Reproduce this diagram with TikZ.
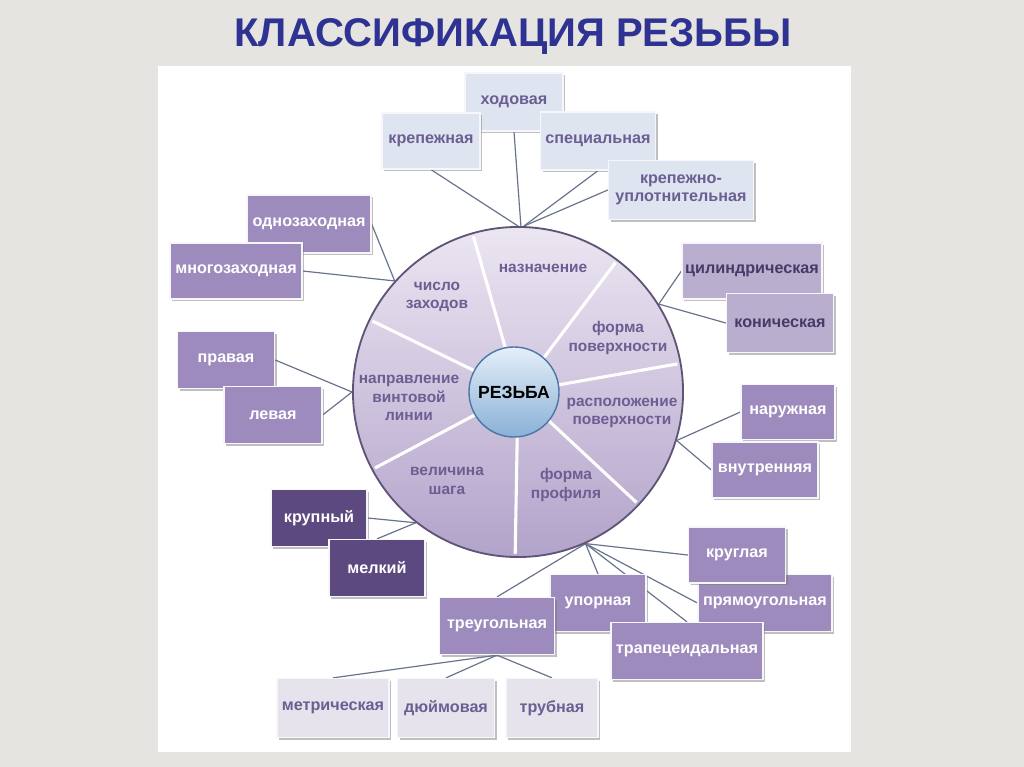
\documentclass[tikz,border=0pt]{standalone}
\usepackage{fontspec}
\setmainfont{Liberation Sans}
\usetikzlibrary{shadows,backgrounds}
\definecolor{paper}{RGB}{230,228,224}
\definecolor{titleblue}{RGB}{46,50,146}
\definecolor{lilac}{RGB}{157,139,190}
\definecolor{darklilac}{RGB}{92,73,128}
\definecolor{softlilac}{RGB}{186,174,207}
\definecolor{paleblue}{RGB}{222,229,241}
\definecolor{palegray}{RGB}{231,227,236}
\definecolor{labeltext}{RGB}{108,94,146}
\definecolor{darktext}{RGB}{70,58,104}
\definecolor{wirecol}{RGB}{104,116,142}
\definecolor{ringedge}{RGB}{96,84,118}
\definecolor{ringtop}{RGB}{236,230,242}
\definecolor{ringbot}{RGB}{178,163,202}
\definecolor{hubtop}{RGB}{228,239,249}
\definecolor{hubbot}{RGB}{138,176,214}
\definecolor{hubedge}{RGB}{78,118,164}
\tikzset{
  kbox/.style={draw=white!92!lilac, line width=0.9pt, minimum height=1.425cm,
    inner sep=2pt, align=center, font=\fontsize{11.5}{12.5}\selectfont\bfseries,
    drop shadow={shadow xshift=1.6pt, shadow yshift=-1.6pt, opacity=0.45, fill=black!55}},
  lightbox/.style={kbox, fill=paleblue, text=labeltext},
  midbox/.style={kbox, fill=lilac, text=white},
  darkbox/.style={kbox, fill=darklilac, text=white},
  softbox/.style={kbox, fill=softlilac, text=darktext},
  greybox/.style={kbox, fill=palegray, text=labeltext, minimum height=1.475cm},
  sector/.style={text=labeltext, align=center, font=\fontsize{11}{13}\selectfont\bfseries},
  wire/.style={draw=wirecol, line width=0.85pt},
  spoke/.style={draw=white, line width=2.2pt},
  headline/.style={text=titleblue, font=\fontsize{28.5}{30}\selectfont\bfseries}
}
\begin{document}
\begin{tikzpicture}[x=0.025cm,y=0.025cm]
\useasboundingbox (0,0) rectangle (1024,-767);
\begin{pgfonlayer}{background}
\fill[paper] (0,0) rectangle (1024,-767);
\fill[white] (158,-66) rectangle (851,-752);
\end{pgfonlayer}
%
\node[headline] (title) at (513,-37) {КЛАССИФИКАЦИЯ РЕЗЬБЫ};
%
\node[circle, minimum size=8.25cm, draw=ringedge, line width=1.3pt,
  top color=ringtop, bottom color=ringbot] (ring) at (518,-392) {};
\foreach \a in {106,53,10,-43,-91,-152,154}
  \draw[spoke] (ring.center) ++(\a:40) -- +(\a:122);
%
\node[sector] (purpose) at (543,-268) {назначение};
\node[sector] (surfform) at (618,-338) {форма\\поверхности};
\node[sector] (surfpos) at (622,-413) {расположение\\поверхности};
\node[sector] (profile) at (566,-485) {форма\\профиля};
\node[sector] (pitch) at (447,-481) {величина\\шага};
\node[sector] (hand) at (409,-398) {направление\\винтовой\\линии};
\node[sector] (starts) at (437,-297) {число\\заходов};
%
\node[circle, minimum size=2.25cm, draw=hubedge, line width=1pt,
  top color=hubtop, bottom color=hubbot, font=\fontsize{12.5}{13}\selectfont\bfseries]
  (hub) at (514,-392) {РЕЗЬБА};
%
\node[lightbox, minimum width=2.45cm, minimum height=1.45cm] (running) at (514,-102) {ходовая};
\node[lightbox, minimum width=2.45cm, minimum height=1.4cm] (fastening) at (431,-141) {крепежная};
\node[lightbox, minimum width=2.875cm, minimum height=1.45cm] (special) at (598,-141) {специальная};
\node[lightbox, minimum width=3.625cm, minimum height=1.475cm] (sealing) at (681,-190) {крепежно-\\уплотнительная};
%
\node[midbox, minimum width=3.1cm, minimum height=1.45cm] (single) at (309,-224) {однозаходная};
\node[midbox, minimum width=3.3cm, minimum height=1.4cm] (multi) at (236,-271) {многозаходная};
%
\node[midbox, minimum width=2.425cm] (righthand) at (226,-360) {правая};
\node[midbox, minimum width=2.45cm] (lefthand) at (273,-415) {левая};
%
\node[darkbox, minimum width=2.4cm] (coarse) at (319,-518) {крупный};
\node[darkbox, minimum width=2.4cm] (finept) at (377,-568) {мелкий};
%
\node[softbox, minimum width=3.5cm, minimum height=1.4cm] (cylinder) at (752,-271) {цилиндрическая};
\node[softbox, minimum width=2.675cm, minimum height=1.475cm] (cone) at (780,-323) {коническая};
%
\node[midbox, minimum width=2.35cm, minimum height=1.375cm] (outer) at (788,-412) {наружная};
\node[midbox, minimum width=2.65cm, minimum height=1.4cm] (inner) at (765,-470) {внутренняя};
%
\node[midbox, minimum width=3.35cm, minimum height=1.425cm] (rect) at (765,-603) {прямоугольная};
\node[midbox, minimum width=2.425cm, minimum height=1.4cm] (round) at (737,-555) {круглая};
\node[midbox, minimum width=2.4cm] (buttress) at (598,-603) {упорная};
\node[midbox, minimum width=2.875cm] (triangle) at (497,-626) {треугольная};
\node[midbox, minimum width=3.8cm] (trapez) at (687,-651) {трапецеидальная};
%
\node[greybox, minimum width=2.8cm] (metric) at (333,-708) {метрическая};
\node[greybox, minimum width=2.425cm] (inch) at (446,-708) {дюймовая};
\node[greybox, minimum width=2.3cm] (pipe) at (552,-708) {трубная};
%
\begin{pgfonlayer}{background}
\draw[wire] (fastening.south) -- (ring.90);
\draw[wire] (running.south) -- (ring.89);
\draw[wire] (special.south) -- (ring.88);
\draw[wire] (sealing.west) -- (ring.88);
%
\draw[wire] (single.east) -- (ring.138);
\draw[wire] (multi.east) -- (ring.138);
\draw[wire] (righthand.east) -- (ring.180);
\draw[wire] (lefthand.east) -- (ring.180);
\draw[wire] (coarse.east) -- (ring.232);
\draw[wire] (finept.north) -- (ring.232);
%
\draw[wire] (cylinder.west) -- (ring.32);
\draw[wire] (cone.west) -- (ring.32);
\draw[wire] (outer.west) -- (ring.-17);
\draw[wire] (inner.west) -- (ring.-17);
%
\draw[wire] (round.west) -- (ring.-66);
\draw[wire] (rect.west) -- (ring.-66);
\draw[wire] (buttress.north) -- (ring.-66);
\draw[wire] (trapez.north) -- (ring.-66);
\draw[wire] (triangle.north) -- (ring.-66);
%
\draw[wire] (metric.north) -- (triangle.south);
\draw[wire] (inch.north) -- (triangle.south);
\draw[wire] (pipe.north) -- (triangle.south);
\end{pgfonlayer}
\end{tikzpicture}
\end{document}
